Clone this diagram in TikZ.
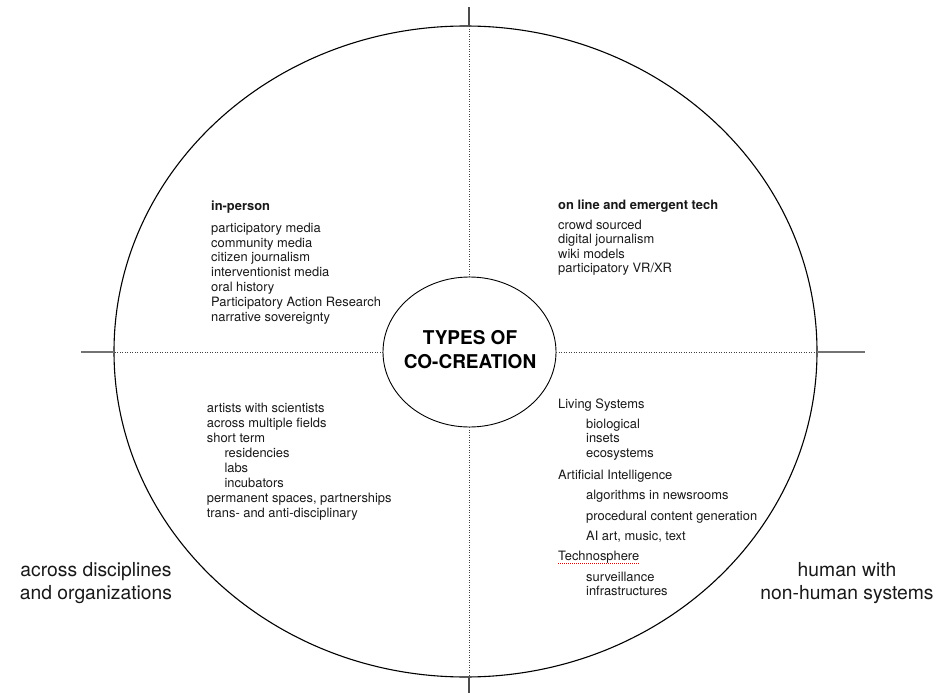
\documentclass[tikz,border=0pt]{standalone}
\usepackage{fontspec}
\setmainfont{TeX Gyre Heros}
\usetikzlibrary{shapes.geometric}
\begin{document}
\begin{tikzpicture}[x=1pt,y=-1pt,
  bigoval/.style={draw=black, line width=1.1pt, ellipse, inner sep=0pt, outer sep=0pt},
  axis/.style={draw=black!75, line width=0.8pt, dash pattern=on 0.8pt off 1.7pt},
  tick/.style={draw=black!55, line width=1.4pt},
  item/.style={anchor=base west, inner sep=0pt, font=\fontsize{12.9}{14}\selectfont, text=black!90},
  head/.style={item, font=\fontsize{12.9}{14}\selectfont\bfseries},
  corelabel/.style={anchor=base, inner sep=0pt, font=\fontsize{19}{22}\selectfont\bfseries},
  outerlabel/.style={anchor=base, inner sep=0pt, font=\fontsize{19.3}{22}\selectfont, text=black!90},
  spell/.style={draw=red!85!black, line width=1pt, dash pattern=on 1pt off 1pt}
]
\useasboundingbox (0,0) rectangle (938,693);
\fill[white] (0,0) rectangle (938,693);

% outer ellipse and core circle
\node[bigoval, minimum width=703pt, minimum height=651pt] (outer) at (465.5,351.5) {};
\node[bigoval, line width=0.9pt, minimum width=173pt, minimum height=150pt] (core) at (469.5,352) {};

% axes (dotted inside)
\draw[axis] (core.west) -- (outer.west |- core.west);
\draw[axis] (core.east) -- (outer.east |- core.east);
\draw[axis] (469,277) coordinate (cn) -- (469,26) coordinate (on);
\draw[axis] (469,427) coordinate (cs) -- (469,677) coordinate (os);

% outer ticks
\coordinate (tw) at (81,352);
\coordinate (te) at (865,352);
\coordinate (tn) at (469,7);
\coordinate (ts) at (469,693);
\draw[tick] (outer.west |- core.west) -- (tw);
\draw[tick] (outer.east |- core.east) -- (te);
\draw[draw=black!70, line width=1.2pt] (on) -- (tn);
\draw[draw=black!70, line width=1.2pt] (os) -- (ts);

% core label
\node[corelabel] (c1) at (470,344.3) {TYPES OF};
\node[corelabel] (c2) at (470,368.3) {CO-CREATION};

% in-person
\node[head] (iph) at (211,210.7) {in-person};
\foreach \t [count=\i] in {participatory media, community media, citizen journalism, interventionist media, oral history, Participatory Action Research, narrative sovereignty}
  \node[item] (ip\i) at (211,{232.3+14.8*(\i-1)}) {\t};

% on line and emergent tech
\node[head] (olh) at (558,209.3) {on line and emergent tech};
\foreach \t [count=\i] in {crowd sourced, digital journalism, wiki models, participatory VR/XR}
  \node[item] (ol\i) at (558,{229.3+14.5*(\i-1)}) {\t};

% across disciplines block
\node[item] (ad1) at (206.7,412.3) {artists with scientists};
\node[item] (ad2) at (206.7,427.3) {across multiple fields};
\node[item] (ad3) at (206.7,442.3) {short term};
\node[item] (ad4) at (224.3,457.3) {residencies};
\node[item] (ad5) at (224.3,472.3) {labs};
\node[item] (ad6) at (224.3,487.3) {incubators};
\node[item] (ad7) at (206.7,502.3) {permanent spaces, partnerships};
\node[item] (ad8) at (206.7,517.5) {trans- and anti-disciplinary};

% non-human systems block
\node[item] (nh1) at (558,408.3) {Living Systems};
\node[item] (nh2) at (586,428.3) {biological};
\node[item] (nh3) at (586,442.8) {insets};
\node[item] (nh4) at (586,457.3) {ecosystems};
\node[item] (nh5) at (558,479) {Artificial Intelligence};
\node[item] (nh6) at (586,499.7) {algorithms in newsrooms};
\node[item] (nh7) at (586,520) {procedural content generation};
\node[item] (nh8) at (586,540) {AI art, music, text};
\node[item] (nh9) at (558,560.7) {Technosphere};
\node[item] (nh10) at (586,581) {surveillance};
\node[item] (nh11) at (586,595.3) {infrastructures};
\draw[spell] ([yshift=-2.3pt]nh9.base west) -- ([yshift=-2.3pt]nh9.base east);

% outer labels
\node[outerlabel] (l1) at (96,576.7) {across disciplines};
\node[outerlabel] (l2) at (96,599.3) {and organizations};
\node[outerlabel] (r1) at (847,576.5) {human with};
\node[outerlabel] (r2) at (847,599.3) {non-human systems};
\end{tikzpicture}
\end{document}
